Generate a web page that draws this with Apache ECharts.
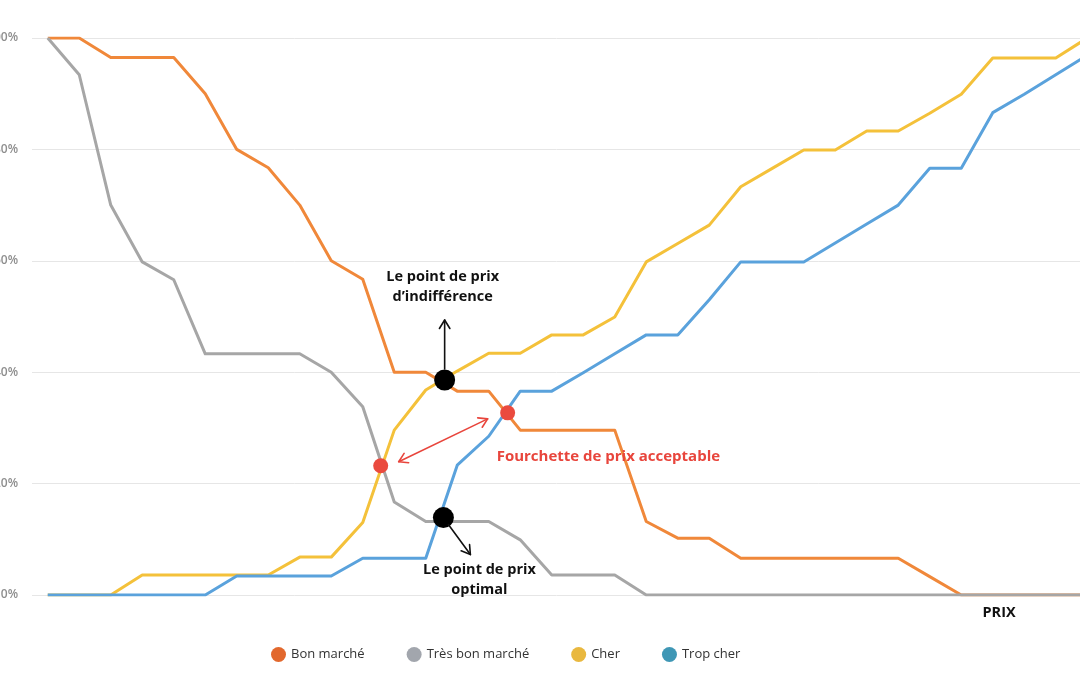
<!DOCTYPE html>
<html><head><meta charset="utf-8">
<script src="https://cdn.jsdelivr.net/npm/echarts@6/dist/echarts.min.js"></script>
<style>html,body{margin:0;padding:0;background:#fff}#chart{width:1080px;height:675px}</style>
</head><body><div id="chart"></div>
<script>
// Price points (index along the price axis)
const prixIndex = [0,1,2,3,4,5,6,7,8,9,10,11,12,13,14,15,16,17,18,19,20,21,22,23,24,25,26,27,28,29,30,31,32,33];
const yTickValues = [0,20,40,60,80,100];
const yTickLabels = ['0%','20%','40%','60%','80%','100%'];

const seriesNames = ['Bon marché','Très bon marché','Cher','Trop cher'];
const bonMarche = [100,100,96.5,96.5,96.5,90,80,76.7,70,60,56.7,40,40,36.6,36.6,29.6,29.6,29.6,29.6,13.2,10.2,10.2,6.6,6.6,6.6,6.6,6.6,6.6,3.3,0,0,0,0,0];
const tresBonMarche = [100,93.4,70,59.8,56.6,43.3,43.3,43.3,43.3,40,33.8,16.7,13.2,13.2,13.2,9.9,3.6,3.6,3.6,0,0,0,0,0,0,0,0,0,0,0,0,0,0,0];
const cher = [0,0,0,3.6,3.6,3.6,3.6,3.6,6.8,6.8,13,29.6,36.8,40.2,43.4,43.4,46.7,46.7,49.9,59.8,63.1,66.4,73.3,76.6,79.9,79.9,83.3,83.3,86.5,89.9,96.4,96.4,96.4,100];
const tropCher = [0,0,0,0,0,0,3.4,3.4,3.4,3.4,6.6,6.6,6.6,23.3,28.5,36.6,36.6,39.9,43.3,46.7,46.7,53,59.8,59.8,59.8,63.2,66.6,70,76.6,76.6,86.6,89.9,93.4,96.9];

// Key points (price index, %)
const pointNames = ["Le point de prix\nd’indifférence", "Le point de prix\noptimal", "PMC", "PME"];
const pointX = [12.6, 12.56, 10.57, 14.6];
const pointY = [38.6, 13.9, 23.2, 32.7];
const annotationLabel = 'Fourchette de prix acceptable';
const axisTitle = 'PRIX';

const lineColors = ['#f0883a','#a6a6a6','#f4c13a','#5aa2dc'];
const legendColors = ['#e2682d','#a2a6ad','#e9b83f','#3f97b5'];
const FONT = '"Open Sans", "DejaVu Sans", sans-serif';

const allValues = [bonMarche, tresBonMarche, cher, tropCher];
const chart = echarts.init(document.getElementById('chart'), null, {renderer:'canvas'});

const lineSeries = seriesNames.map((n,k)=>({
  name:n, type:'line', symbol:'none', z:2+k,
  data: prixIndex.map((x,i)=>[x, allValues[k][i]]),
  lineStyle:{color:lineColors[k], width:3, join:'round'},
  itemStyle:{color:lineColors[k]}
}));

chart.setOption({
  animation:false,
  backgroundColor:'#fff',
  grid:{left:32, right:-23, top:38, bottom:80, containLabel:false, outerBoundsMode:'none'},
  legend:{
    left:266, top:642, itemWidth:15, itemHeight:15, itemGap:42, icon:'circle',
    textStyle:{fontFamily:FONT, fontSize:13, color:'#333'},
    data: seriesNames.map((n,k)=>({name:n, itemStyle:{color:legendColors[k]}}))
  },
  xAxis:{type:'value', min:-0.5, max:33.5, show:true,
    axisLine:{show:false}, axisTick:{show:false}, axisLabel:{show:false}, splitLine:{show:false}},
  yAxis:{type:'value', min:0, max:100, interval:20,
    axisLine:{show:false}, axisTick:{show:false},
    axisLabel:{margin:14, color:'#8e8e8e', fontWeight:600, fontSize:12, fontFamily:FONT,
      formatter:v=>yTickLabels[yTickValues.indexOf(v)]},
    splitLine:{lineStyle:{color:'#e6e6e6', width:1}}},
  series: lineSeries.concat([
    {type:'scatter', name:'noir', z:10, symbolSize:21, itemStyle:{color:'#000', opacity:1},
      data:[0,1].map(i=>[pointX[i], pointY[i]])},
    {type:'scatter', name:'rouge', z:10, symbolSize:15, itemStyle:{color:'#ea4a3e', opacity:1},
      data:[2,3].map(i=>[pointX[i], pointY[i]])}
  ])
});

function px(x,y){ return chart.convertToPixel({xAxisIndex:0,yAxisIndex:0},[x,y]); }
function arrowHead(tip, from, color, len, ang){
  const dx = from[0]-tip[0], dy = from[1]-tip[1];
  const d = Math.hypot(dx,dy); const ux=dx/d, uy=dy/d;
  const rot=(a)=>[tip[0]+len*(ux*Math.cos(a)-uy*Math.sin(a)), tip[1]+len*(ux*Math.sin(a)+uy*Math.cos(a))];
  const a=rot(ang), b=rot(-ang);
  return {type:'polyline', z:20, shape:{points:[a,tip,b]}, style:{stroke:color, lineWidth:1.6, fill:null, lineJoin:'round', lineCap:'round'}};
}
function arrow(p1,p2,color,both,halo){
  const els=[];
  if(halo) els.push({type:'line', z:19, shape:{x1:p1[0],y1:p1[1],x2:p2[0],y2:p2[1]}, style:{stroke:'#fff', lineWidth:6}});
  els.push({type:'line', z:20, shape:{x1:p1[0],y1:p1[1],x2:p2[0],y2:p2[1]}, style:{stroke:color, lineWidth:1.6, lineCap:'round'}});
  els.push(arrowHead(p2,p1,color,10,0.55));
  if(both) els.push(arrowHead(p1,p2,color,10,0.55));
  return els;
}
function text(str,x,y,color,align,size){
  return {type:'text', z:21, style:{text:str, x:x, y:y, fill:color, fontFamily:FONT, fontSize:size||14.5, fontWeight:'bold',
    align:align||'center', verticalAlign:'middle', lineHeight:20}};
}

const pI = px(pointX[0],pointY[0]);
const pO = px(pointX[1],pointY[1]);
const pL = px(pointX[2],pointY[2]);
const pR = px(pointX[3],pointY[3]);
const base = px(30.2, 0);

let g = [];
g = g.concat(arrow([pI[0],pI[1]-11],[pI[0],pI[1]-60],'#111',false,false));
g = g.concat(arrow([pO[0]+5,pO[1]+7],[pO[0]+27,pO[1]+37],'#111',false,false));
g = g.concat(arrow([pL[0]+18,pL[1]-4],[pR[0]-20,pR[1]+6],'#e8453c',true,true));
g.push(text(pointNames[0], pI[0]-2, pI[1]-93, '#111'));
g.push(text(pointNames[1], pO[0]+36, pO[1]+62, '#111'));
g.push(text(annotationLabel, pR[0]-11, pR[1]+44, '#e8453c', 'left', 15));
g.push(text(axisTitle, base[0], base[1]+18, '#111'));

chart.setOption({graphic:{elements:g}});
</script></body></html>
